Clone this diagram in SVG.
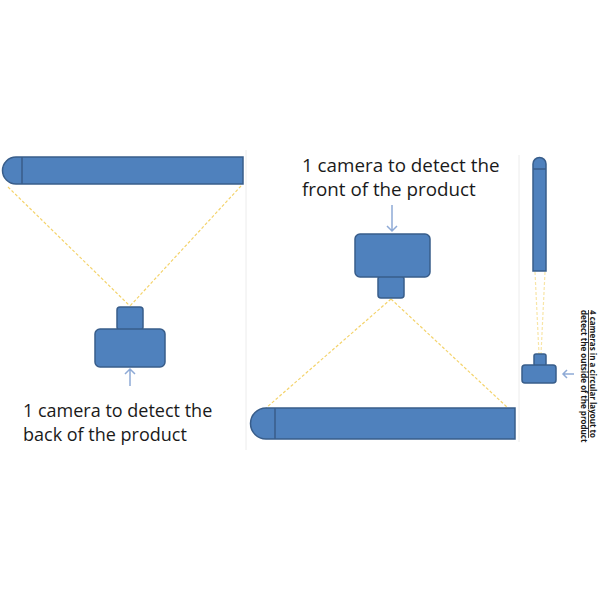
<svg xmlns="http://www.w3.org/2000/svg" width="600" height="600" viewBox="0 0 600 600">
<style>
.b{fill:#4f81bd;stroke:#385d8a;stroke-width:1.5}
.d{fill:none;stroke:#385d8a;stroke-width:1.5}
.y{fill:none;stroke:#f4d36b;stroke-width:1.2;stroke-dasharray:3 2}
.a{fill:none;stroke:#8eaad6;stroke-width:1.5}
.t{font-family:"Open Sans","Noto Sans",sans-serif;fill:#1a1a1a}
.f{stroke:#ececec;stroke-width:1}
</style>
<rect width="600" height="600" fill="#fff"/>
<g id="frames">
<line class="f" x1="246" y1="150" x2="246" y2="450"/>
<line class="f" x1="519" y1="155" x2="519" y2="442"/>
</g>
<g id="connectors">
<line class="y" x1="8" y1="187" x2="130" y2="306"/>
<line class="y" x1="241" y1="186" x2="130" y2="306"/>
<line class="y" x1="391" y1="299" x2="266" y2="408"/>
<line class="y" x1="391" y1="299" x2="508" y2="408"/>
<line class="y" x1="535" y1="272" x2="539" y2="354" stroke-dasharray="none" stroke-opacity="0.6"/>
<line class="y" x1="545" y1="272" x2="541" y2="354" stroke-dasharray="none" stroke-opacity="0.6"/>
<path class="a" d="M130 386V369M125 374L130 369L135 374"/>
<path class="a" d="M392 205V231M387 226L392 231L397 226"/>
<path class="a" d="M574 374H563M567 370L563 374L567 378"/>
</g>
<g id="bar-left">
<path class="b" d="M16 157H243V184H16A13.5 13.5 0 0 1 16 157Z"/>
<line class="d" x1="22" y1="157" x2="22" y2="184"/>
</g>
<g id="camera-back">
<rect class="b" x="117" y="307" width="26" height="23" rx="3"/>
<rect class="b" x="95" y="329" width="70" height="38" rx="5"/>
</g>
<g id="label-back">
<text class="t" font-size="18" x="23" y="417">1 camera to detect the</text>
<text class="t" font-size="18" x="23" y="441">back of the product</text>
</g>
<g id="label-front">
<text class="t" font-size="18.8" x="302" y="172">1 camera to detect the</text>
<text class="t" font-size="18.8" x="302" y="196">front of the product</text>
</g>
<g id="camera-front">
<rect class="b" x="378" y="276" width="26" height="22" rx="3"/>
<rect class="b" x="355" y="234" width="75" height="43" rx="5"/>
</g>
<g id="bar-middle">
<path class="b" d="M266 408H515V439H266A15.5 15.5 0 0 1 266 408Z"/>
<line class="d" x1="275" y1="408" x2="275" y2="439"/>
</g>
<g id="bar-right">
<path class="b" d="M533 164A6.5 6.5 0 0 1 546 164V271H533Z"/>
<line class="d" x1="533" y1="169" x2="546" y2="169"/>
</g>
<g id="camera-circular">
<rect class="b" x="534" y="354" width="12" height="12" rx="2"/>
<rect class="b" x="522" y="365" width="34" height="18" rx="3"/>
</g>
<g id="label-circular" transform="translate(590 310) rotate(90)">
<text class="t" font-size="8" font-weight="bold" x="0" y="0" text-decoration="underline">4 cameras in a circular layout to</text>
<text class="t" font-size="8" font-weight="bold" x="0" y="9">detect the outside of the product</text>
</g>
</svg>
